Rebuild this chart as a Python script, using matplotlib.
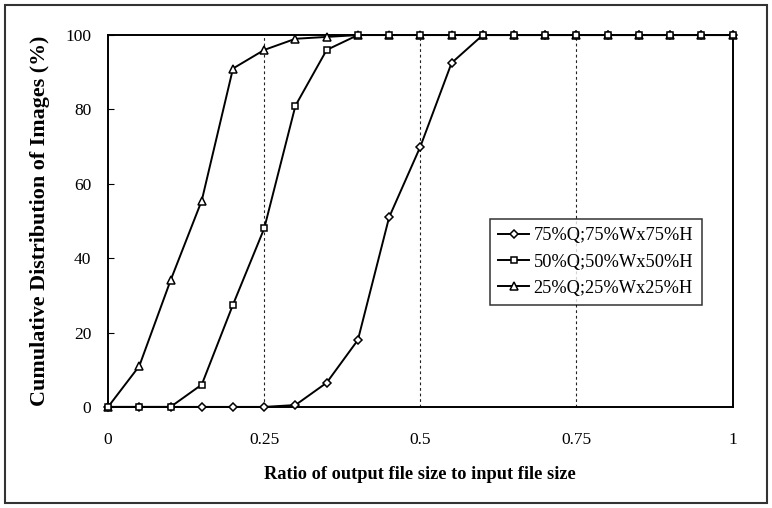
import matplotlib
matplotlib.use("Agg")
import matplotlib.pyplot as plt
from matplotlib.patches import Rectangle

# ─── data ───────────────────────────────────────────────────────────────

ratio = [0.0, 0.05, 0.10, 0.15, 0.20, 0.25, 0.30, 0.35, 0.40, 0.45, 0.50,
         0.55, 0.60, 0.65, 0.70, 0.75, 0.80, 0.85, 0.90, 0.95, 1.0]

q75 = [0, 0, 0, 0, 0, 0, 0.5, 6.5, 18, 51, 70,
       92.5, 100, 100, 100, 100, 100, 100, 100, 100, 100]
q50 = [0, 0, 0, 6, 27.5, 48, 81, 96, 100, 100, 100,
       100, 100, 100, 100, 100, 100, 100, 100, 100, 100]
q25 = [0, 11, 34, 55.5, 91, 96, 99, 99.5, 100, 100, 100,
       100, 100, 100, 100, 100, 100, 100, 100, 100, 100]

labels = ["75%Q;75%Wx75%H", "50%Q;50%Wx50%H", "25%Q;25%Wx25%H"]
xticks = [0, 0.25, 0.5, 0.75, 1]
xtick_labels = ["0", "0.25", "0.5", "0.75", "1"]
yticks = [0, 20, 40, 60, 80, 100]

# ─── figure ─────────────────────────────────────────────────────────────

plt.rcParams["font.family"] = ["Liberation Serif", "DejaVu Serif"]

fig = plt.figure(figsize=(7.72, 5.08), dpi=100)
ax = fig.add_axes([0.140, 0.199, 0.809, 0.732])

for xv in xticks[1:-1]:
    ax.axvline(xv, color="#222222", lw=0.8, ls=(0, (2.5, 2.5)), zorder=1)

mk = dict(color="black", lw=1.4, markerfacecolor="white",
          markeredgecolor="black", markeredgewidth=1.1, clip_on=False)
ax.plot(ratio, q75, marker="D", markersize=4, label=labels[0], zorder=3, **mk)
ax.plot(ratio, q25, marker="^", markersize=6, label=labels[2], zorder=4, **mk)
ax.plot(ratio, q50, marker="s", markersize=5, label=labels[1], zorder=5, **mk)

ax.set_xlim(0, 1)
ax.set_ylim(0, 100)
ax.set_xticks(xticks)
ax.set_xticklabels(xtick_labels)
ax.set_yticks(yticks)
ax.tick_params(axis="x", length=0, pad=18, labelsize=12.5)
ax.tick_params(axis="y", direction="in", length=4, pad=12, labelsize=12.5)
for s in ax.spines.values():
    s.set_linewidth(1.4)

ax.set_xlabel("Ratio of output file size to input file size",
              fontsize=13.2, fontweight="bold", labelpad=13)
ax.set_ylabel("Cumulative Distribution of Images (%)",
              fontsize=15.8, fontweight="bold", labelpad=11)

handles, lbls = ax.get_legend_handles_labels()
order = [0, 2, 1]
leg = ax.legend([handles[i] for i in order], [lbls[i] for i in order],
                loc="upper left", bbox_to_anchor=(0.611, 0.505),
                fontsize=13.2, frameon=True, fancybox=False, edgecolor="black",
                handlelength=1.7, handletextpad=0.25, borderpad=0.45,
                labelspacing=0.5, borderaxespad=0)
leg.get_frame().set_linewidth(1.1)

fig.patches.append(Rectangle((0.006, 0.01), 0.988, 0.98, transform=fig.transFigure,
                             fill=False, edgecolor="#333333", lw=1.5))

fig.savefig("out.png", dpi=100, facecolor="white")
